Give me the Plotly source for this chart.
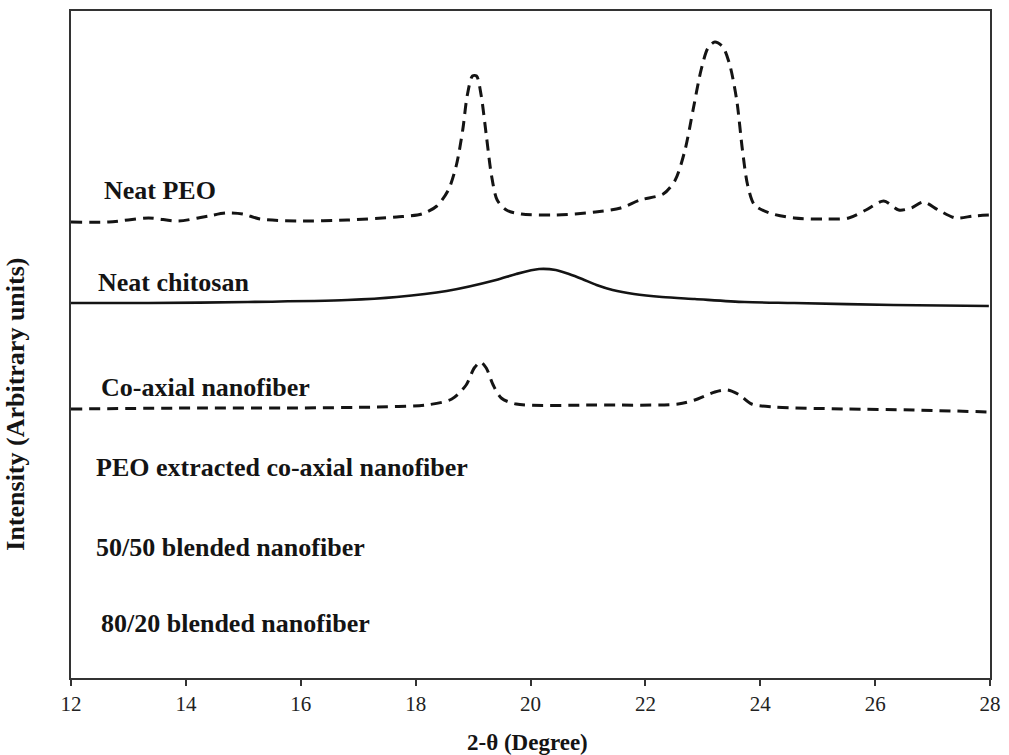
import plotly.graph_objects as go

# 2-theta positions (degrees) and intensities (arbitrary units, stacked offsets)
peo_theta = [12.00, 12.66, 13.35, 13.87, 14.39, 14.70, 14.99, 15.29, 15.94, 16.81,
             17.67, 18.11, 18.37, 18.57, 18.71, 18.82, 18.90, 18.99, 19.06, 19.14,
             19.23, 19.32, 19.42, 19.58, 19.84, 20.44, 21.13, 21.57, 21.91, 22.31,
             22.52, 22.69, 22.83, 22.97, 23.09, 23.21, 23.35, 23.47, 23.59, 23.69,
             23.78, 23.90, 24.16, 24.59, 25.11, 25.54, 25.84, 26.15, 26.41, 26.63,
             26.84, 27.10, 27.40, 27.71, 27.98]
peo_int = [456, 456, 460, 457, 462, 465, 464, 459, 457, 458,
           461, 464, 472, 488, 513, 548, 583, 602, 602, 583,
           543, 503, 478, 468, 464, 463, 466, 470, 478, 484,
           498, 528, 568, 608, 630, 636, 631, 613, 578, 528,
           493, 473, 465, 460, 459, 460, 468, 477, 468, 470,
           476, 468, 460, 462, 463]

chitosan_theta = [12.00, 13.35, 15.08, 16.81, 17.67, 18.54, 19.40, 19.75, 20.15, 20.44,
                  20.67, 20.90, 21.15, 21.43, 21.80, 22.29, 22.86, 23.73, 24.59, 26.32,
                  27.98]
chitosan_int = [375, 375, 376, 378, 381, 387, 398, 404, 409, 408,
                404, 399, 393, 388, 384, 381, 379, 376, 375, 373,
                372]

coax_theta = [12.00, 14.21, 15.94, 17.33, 18.19, 18.63, 18.88, 19.02, 19.13, 19.23,
              19.35, 19.49, 19.75, 21.13, 22.57, 22.86, 23.21, 23.43, 23.64, 23.85,
              24.25, 25.46, 26.67, 27.98]
coax_int = [269, 270, 270, 271, 273, 279, 293, 310, 316, 310,
            293, 280, 274, 273, 274, 278, 286, 288, 283, 274,
            271, 269, 268, 266]

# Sample labels: text, left edge (degrees), vertical centre (intensity units)
label_text = ["Neat PEO", "Neat chitosan", "Co-axial nanofiber",
              "PEO extracted co-axial nanofiber", "50/50 blended nanofiber",
              "80/20 blended nanofiber"]
label_x = [12.54, 12.43, 12.48, 12.40, 12.40, 12.48]
label_y = [488, 396, 291, 211, 131, 55]

x_ticks = [12, 14, 16, 18, 20, 22, 24, 26, 28]

SERIF = "Liberation Serif, Times New Roman, serif"
INK = "#141414"

fig = go.Figure()
fig.add_trace(go.Scatter(x=peo_theta, y=peo_int, mode="lines",
                         line=dict(color=INK, width=3, dash="11px,7px", shape="spline", smoothing=0.8),
                         showlegend=False, hoverinfo="skip"))
fig.add_trace(go.Scatter(x=chitosan_theta, y=chitosan_int, mode="lines",
                         line=dict(color=INK, width=2.6, shape="spline", smoothing=0.8),
                         showlegend=False, hoverinfo="skip"))
fig.add_trace(go.Scatter(x=coax_theta, y=coax_int, mode="lines",
                         line=dict(color=INK, width=3, dash="11px,7px", shape="spline", smoothing=0.8),
                         showlegend=False, hoverinfo="skip"))

for t, lx, ly in zip(label_text, label_x, label_y):
    fig.add_annotation(x=lx, y=ly, xref="x", yref="y", text=f"<b>{t}</b>",
                       showarrow=False, xanchor="left", yanchor="middle",
                       font=dict(family=SERIF, size=26, color=INK))

fig.add_annotation(x=0.497, y=-0.096, xref="paper", yref="paper",
                   text="<b>2-θ (Degree)</b>", showarrow=False,
                   xanchor="center", yanchor="middle",
                   font=dict(family=SERIF, size=23, color=INK))
fig.add_annotation(x=-0.06, y=0.411, xref="paper", yref="paper",
                   text="<b>Intensity (Arbitrary units)</b>", showarrow=False,
                   textangle=-90, xanchor="center", yanchor="middle",
                   font=dict(family=SERIF, size=26, color=INK))

fig.update_layout(
    width=1009, height=755,
    margin=dict(l=71, r=8, t=11, b=77),
    paper_bgcolor="white", plot_bgcolor="white",
    xaxis=dict(range=[12, 28], tickvals=x_ticks, ticktext=[str(v) for v in x_ticks],
               ticks="outside", ticklen=6, tickwidth=2, tickcolor="#333",
               ticklabeloverflow="allow",
               showline=True, linecolor="#333", linewidth=2, mirror=True,
               showgrid=False, zeroline=False,
               tickfont=dict(family=SERIF, size=21, color="#222")),
    yaxis=dict(range=[0, 667], showticklabels=False, ticks="",
               showline=True, linecolor="#333", linewidth=2, mirror=True,
               showgrid=False, zeroline=False),
)

fig.write_html("out.html")
